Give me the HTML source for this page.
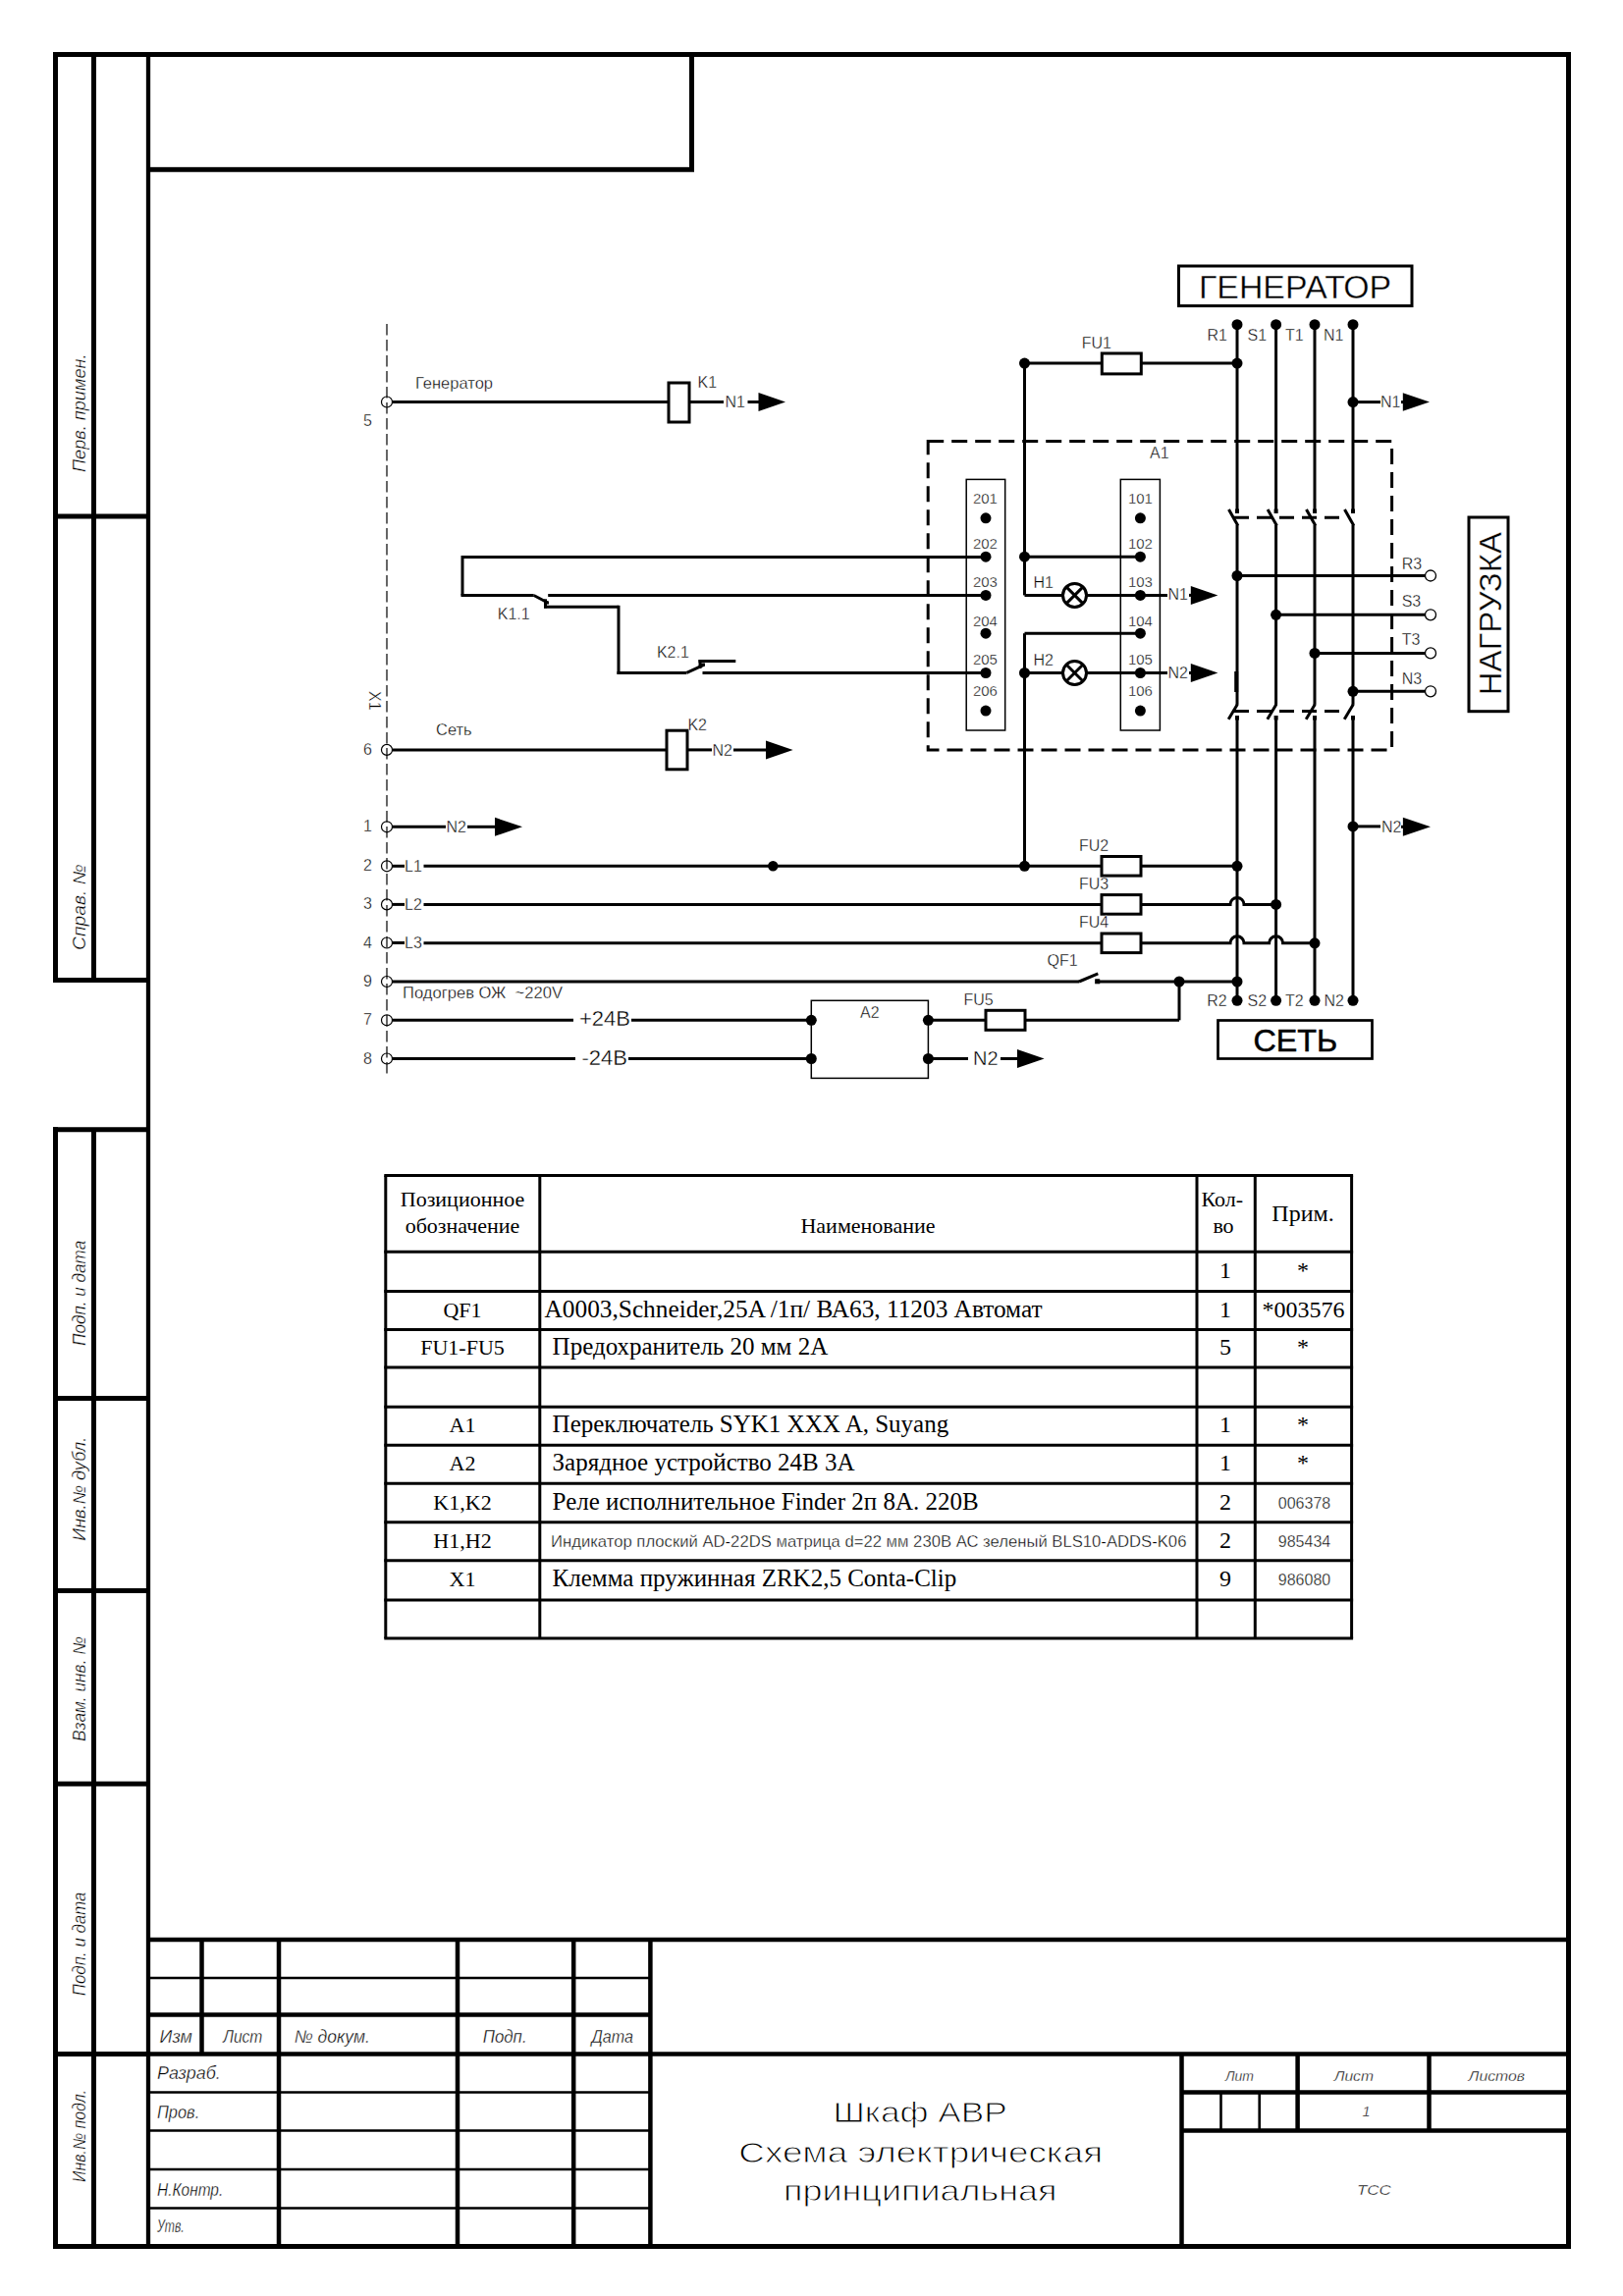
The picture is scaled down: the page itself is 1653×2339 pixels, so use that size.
<!DOCTYPE html><html><head><meta charset="utf-8"><style>html,body{margin:0;padding:0;background:#fff}svg{display:block} text{stroke:#fff;stroke-width:0.35px} text.r{stroke:none} text.t{stroke-width:0.9px} text.b{stroke:#000;stroke-width:0.5px} .s{font-family:"Liberation Sans",sans-serif} .i{font-family:"Liberation Sans",sans-serif;font-style:italic} .r{font-family:"Liberation Serif",serif}</style></head><body>
<svg width="1653" height="2339" viewBox="0 0 1653 2339" stroke="#000" fill="#000">
<rect x="0" y="0" width="1653" height="2339" fill="#fff" stroke="none"/>
<line x1="148.5" y1="55.5" x2="1600.0" y2="55.5" stroke-width="5" />
<line x1="1597.5" y1="53.0" x2="1597.5" y2="2291.0" stroke-width="5" />
<line x1="54.0" y1="2288.5" x2="1600.0" y2="2288.5" stroke-width="5" />
<line x1="151" y1="53.0" x2="151" y2="2291.0" stroke-width="4.3" />
<line x1="56.5" y1="53.0" x2="56.5" y2="1000.9" stroke-width="5" />
<line x1="95.5" y1="55.5" x2="95.5" y2="998.4" stroke-width="5" />
<line x1="56.5" y1="1148.2" x2="56.5" y2="2291.0" stroke-width="5" />
<line x1="95.5" y1="1150.7" x2="95.5" y2="2288.5" stroke-width="5" />
<line x1="54.0" y1="55.5" x2="151" y2="55.5" stroke-width="5" />
<line x1="54.0" y1="526" x2="151" y2="526" stroke-width="5" />
<line x1="54.0" y1="998.4" x2="151" y2="998.4" stroke-width="5" />
<line x1="54.0" y1="1150.7" x2="151" y2="1150.7" stroke-width="5" />
<line x1="54.0" y1="1424.4" x2="151" y2="1424.4" stroke-width="5" />
<line x1="54.0" y1="1620.4" x2="151" y2="1620.4" stroke-width="5" />
<line x1="54.0" y1="1817.2" x2="151" y2="1817.2" stroke-width="5" />
<line x1="54.0" y1="2092.4" x2="151" y2="2092.4" stroke-width="5" />
<line x1="704.5" y1="55.5" x2="704.5" y2="175" stroke-width="5" />
<line x1="151" y1="172.8" x2="707" y2="172.8" stroke-width="5" />
<line x1="151" y1="1976" x2="1597.5" y2="1976" stroke-width="4.5" />
<line x1="205.5" y1="1976" x2="205.5" y2="2092" stroke-width="4.5" />
<line x1="284" y1="1976" x2="284" y2="2288.5" stroke-width="4.5" />
<line x1="466" y1="1976" x2="466" y2="2288.5" stroke-width="4.5" />
<line x1="584.2" y1="1976" x2="584.2" y2="2288.5" stroke-width="4.5" />
<line x1="662.4" y1="1976" x2="662.4" y2="2288.5" stroke-width="4.5" />
<line x1="151" y1="2015" x2="662.4" y2="2015" stroke-width="2.6" />
<line x1="151" y1="2052.5" x2="662.4" y2="2052.5" stroke-width="4.5" />
<line x1="56.5" y1="2092.4" x2="1597.5" y2="2092.4" stroke-width="4.5" />
<line x1="151" y1="2131.5" x2="662.4" y2="2131.5" stroke-width="2.6" />
<line x1="151" y1="2170.5" x2="662.4" y2="2170.5" stroke-width="2.6" />
<line x1="151" y1="2210" x2="662.4" y2="2210" stroke-width="2.6" />
<line x1="151" y1="2249.5" x2="662.4" y2="2249.5" stroke-width="2.6" />
<line x1="1203.5" y1="2092.4" x2="1203.5" y2="2288.5" stroke-width="4.5" />
<line x1="1203.5" y1="2131.5" x2="1597.5" y2="2131.5" stroke-width="4.5" />
<line x1="1203.5" y1="2170.5" x2="1597.5" y2="2170.5" stroke-width="4.5" />
<line x1="1321.6" y1="2092.4" x2="1321.6" y2="2170.5" stroke-width="4.5" />
<line x1="1455.5" y1="2092.4" x2="1455.5" y2="2170.5" stroke-width="4.5" />
<line x1="1243.5" y1="2131.5" x2="1243.5" y2="2170.5" stroke-width="2.6" />
<line x1="1282.7" y1="2131.5" x2="1282.7" y2="2170.5" stroke-width="2.6" />
<text x="162.6" y="2081.4" font-size="18" class="i" text-anchor="start" textLength="33.3" lengthAdjust="spacingAndGlyphs" >Изм</text>
<text x="227.2" y="2081.4" font-size="18" class="i" text-anchor="start" textLength="40.2" lengthAdjust="spacingAndGlyphs" >Лист</text>
<text x="299.7" y="2081.4" font-size="18" class="i" text-anchor="start" textLength="77.2" lengthAdjust="spacingAndGlyphs" >№ докум.</text>
<text x="491.7" y="2081.4" font-size="18" class="i" text-anchor="start" textLength="44.9" lengthAdjust="spacingAndGlyphs" >Подп.</text>
<text x="602.5" y="2081.4" font-size="18" class="i" text-anchor="start" textLength="42.5" lengthAdjust="spacingAndGlyphs" >Дата</text>
<text x="160" y="2118" font-size="18" class="i" text-anchor="start" textLength="64.8" lengthAdjust="spacingAndGlyphs" >Разраб.</text>
<text x="160" y="2158" font-size="18" class="i" text-anchor="start" textLength="43.2" lengthAdjust="spacingAndGlyphs" >Пров.</text>
<text x="160" y="2237.1" font-size="18" class="i" text-anchor="start" textLength="67.2" lengthAdjust="spacingAndGlyphs" >Н.Контр.</text>
<text x="160" y="2274.4" font-size="18" class="i" text-anchor="start" textLength="27.6" lengthAdjust="spacingAndGlyphs" >Утв.</text>
<text x="1248" y="2120.4" font-size="14.5" class="i" text-anchor="start" textLength="29" lengthAdjust="spacingAndGlyphs" >Лит</text>
<text x="1358.7" y="2120.4" font-size="14.5" class="i" text-anchor="start" textLength="40.3" lengthAdjust="spacingAndGlyphs" >Лист</text>
<text x="1495.6" y="2120.4" font-size="14.5" class="i" text-anchor="start" textLength="57.4" lengthAdjust="spacingAndGlyphs" >Листов</text>
<text x="1382" y="2236" font-size="14.5" class="i" text-anchor="start" textLength="34.8" lengthAdjust="spacingAndGlyphs" >ТСС</text>
<text x="1387.5" y="2156.3" font-size="14.5" class="i" text-anchor="start" >1</text>
<text x="848.4" y="2162.4" font-size="29.5" class="s t" text-anchor="start" textLength="177.5" lengthAdjust="spacingAndGlyphs" >Шкаф АВР</text>
<text x="752.3" y="2202.6" font-size="29.5" class="s t" text-anchor="start" textLength="370.9" lengthAdjust="spacingAndGlyphs" >Схема электрическая</text>
<text x="798" y="2242" font-size="29.5" class="s t" text-anchor="start" textLength="278.4" lengthAdjust="spacingAndGlyphs" >принципиальная</text>
<text transform="translate(87,481.1) rotate(-90)" x="0" y="0" font-size="18" class="i" textLength="120.6" lengthAdjust="spacingAndGlyphs">Перв. примен.</text>
<text transform="translate(87,968) rotate(-90)" x="0" y="0" font-size="18" class="i" textLength="87.6" lengthAdjust="spacingAndGlyphs">Справ. №</text>
<text transform="translate(87,1371) rotate(-90)" x="0" y="0" font-size="18" class="i" textLength="107.2" lengthAdjust="spacingAndGlyphs">Подп. и дата</text>
<text transform="translate(87,1569.7) rotate(-90)" x="0" y="0" font-size="18" class="i" textLength="105.9" lengthAdjust="spacingAndGlyphs">Инв.№ дубл.</text>
<text transform="translate(87,1774) rotate(-90)" x="0" y="0" font-size="18" class="i" textLength="107" lengthAdjust="spacingAndGlyphs">Взам. инв. №</text>
<text transform="translate(87,2033.3) rotate(-90)" x="0" y="0" font-size="18" class="i" textLength="105.8" lengthAdjust="spacingAndGlyphs">Подп. и дата</text>
<text transform="translate(87,2222.9) rotate(-90)" x="0" y="0" font-size="18" class="i" textLength="94.1" lengthAdjust="spacingAndGlyphs">Инв.№ подл.</text>
<line x1="394" y1="330" x2="394" y2="1094" stroke-width="1.2" stroke-dasharray="11.5 4.5"/>
<line x1="399.5" y1="409.5" x2="681" y2="409.5" stroke-width="3" />
<rect x="681" y="390" width="21" height="40" fill="none" stroke-width="3" />
<line x1="702" y1="409.5" x2="737" y2="409.5" stroke-width="3" />
<text x="738.5" y="414.5" font-size="16" class="s" text-anchor="start" >N1</text>
<line x1="761.5" y1="409.5" x2="774.5" y2="409.5" stroke-width="3" />
<polygon points="772.5,400.0 800,409.5 772.5,419.0" fill="#000" stroke="none"/>
<text x="423" y="396" font-size="16.5" class="s" text-anchor="start" >Генератор</text>
<text x="710.6" y="395" font-size="16" class="s" text-anchor="start" >K1</text>
<line x1="399.5" y1="763.9" x2="679" y2="763.9" stroke-width="3" />
<rect x="679" y="744.2" width="21" height="39.59999999999991" fill="none" stroke-width="3" />
<line x1="700" y1="763.9" x2="725" y2="763.9" stroke-width="3" />
<text x="725.5" y="769.5" font-size="16" class="s" text-anchor="start" >N2</text>
<line x1="747" y1="763.9" x2="782" y2="763.9" stroke-width="3" />
<polygon points="780,754.4 807.6,763.9 780,773.4" fill="#000" stroke="none"/>
<text x="444" y="748.5" font-size="16.5" class="s" text-anchor="start" >Сеть</text>
<text x="700.4" y="744" font-size="16" class="s" text-anchor="start" >K2</text>
<line x1="399.5" y1="842.3" x2="454" y2="842.3" stroke-width="3" />
<text x="454.5" y="848" font-size="16" class="s" text-anchor="start" >N2</text>
<line x1="476" y1="842.3" x2="506" y2="842.3" stroke-width="3" />
<polygon points="504,832.8 532,842.3 504,851.8" fill="#000" stroke="none"/>
<line x1="399.5" y1="882.3" x2="412" y2="882.3" stroke-width="3" />
<text x="412" y="887.5" font-size="16" class="s" text-anchor="start" >L1</text>
<line x1="399.5" y1="921.4" x2="412" y2="921.4" stroke-width="3" />
<text x="412" y="926.6" font-size="16" class="s" text-anchor="start" >L2</text>
<line x1="399.5" y1="960.5" x2="412" y2="960.5" stroke-width="3" />
<text x="412" y="965.7" font-size="16" class="s" text-anchor="start" >L3</text>
<line x1="431.5" y1="882.3" x2="1260" y2="882.3" stroke-width="3" />
<circle cx="787.3" cy="882.3" r="5.2" fill="#000" stroke="none"/>
<circle cx="1043.5" cy="882.3" r="5.5" fill="#000" stroke="none"/>
<circle cx="1260" cy="882.3" r="5.5" fill="#000" stroke="none"/>
<path d="M431.5,921.4 L1253,921.4 A7,7 0 0 1 1267,921.4 L1299.6,921.4" fill="none" stroke-width="3"/>
<circle cx="1299.6" cy="921.4" r="5.5" fill="#000" stroke="none"/>
<path d="M431.5,960.8 L1253,960.8 A7,7 0 0 1 1267,960.8 L1292.6,960.8 A7,7 0 0 1 1306.6,960.8 L1339,960.8" fill="none" stroke-width="3"/>
<circle cx="1339" cy="960.8" r="5.5" fill="#000" stroke="none"/>
<rect x="1122" y="872.5" width="40" height="19.6" fill="#fff" stroke-width="3"/>
<text x="1099" y="866.7" font-size="16" class="s" text-anchor="start" >FU2</text>
<rect x="1122" y="911.6" width="40" height="19.6" fill="#fff" stroke-width="3"/>
<text x="1099" y="905.5" font-size="16" class="s" text-anchor="start" >FU3</text>
<rect x="1122" y="951.0" width="40" height="19.6" fill="#fff" stroke-width="3"/>
<text x="1099" y="945.1" font-size="16" class="s" text-anchor="start" >FU4</text>
<line x1="399.5" y1="1000" x2="1099" y2="1000" stroke-width="3" />
<line x1="1099" y1="1000" x2="1118.3" y2="991.8" stroke-width="3" />
<rect x="1115.7" y="997.8" width="4" height="4" fill="#000" stroke-width="1"/>
<line x1="1118" y1="1000" x2="1260" y2="1000" stroke-width="3" />
<circle cx="1201" cy="1000" r="5.5" fill="#000" stroke="none"/>
<circle cx="1260" cy="1000" r="5.5" fill="#000" stroke="none"/>
<text x="1066.5" y="984.4" font-size="16" class="s" text-anchor="start" >QF1</text>
<text x="410" y="1017" font-size="16.5" class="s" text-anchor="start" textLength="163" lengthAdjust="spacingAndGlyphs" >Подогрев ОЖ&#160; ~220V</text>
<line x1="399.5" y1="1039.3" x2="584" y2="1039.3" stroke-width="3" />
<text x="590" y="1045.3" font-size="22" class="s" text-anchor="start" >+24В</text>
<line x1="643" y1="1039.3" x2="826.3" y2="1039.3" stroke-width="3" />
<line x1="399.5" y1="1078.5" x2="586" y2="1078.5" stroke-width="3" />
<text x="592.5" y="1084.5" font-size="22" class="s" text-anchor="start" >-24В</text>
<line x1="640" y1="1078.5" x2="826.3" y2="1078.5" stroke-width="3" />
<rect x="826.3" y="1019.3" width="119.10000000000002" height="79.10000000000014" fill="none" stroke-width="1.5" />
<circle cx="826.3" cy="1039.3" r="5.5" fill="#000" stroke="none"/>
<circle cx="826.3" cy="1078.5" r="5.5" fill="#000" stroke="none"/>
<circle cx="945.4" cy="1039.3" r="5.5" fill="#000" stroke="none"/>
<circle cx="945.4" cy="1078.5" r="5.5" fill="#000" stroke="none"/>
<text x="876" y="1036.8" font-size="16" class="s" text-anchor="start" >A2</text>
<line x1="945.4" y1="1039.3" x2="1201" y2="1039.3" stroke-width="3" />
<line x1="1201" y1="1039.3" x2="1201" y2="1000" stroke-width="3" />
<rect x="1004" y="1029.3" width="40" height="20" fill="#fff" stroke-width="3"/>
<text x="981.4" y="1024.1" font-size="16" class="s" text-anchor="start" >FU5</text>
<line x1="945.4" y1="1078.5" x2="986" y2="1078.5" stroke-width="3" />
<text x="991" y="1085.3" font-size="20" class="s" text-anchor="start" >N2</text>
<line x1="1019" y1="1078.5" x2="1038" y2="1078.5" stroke-width="3" />
<polygon points="1036,1069.0 1063.6,1078.5 1036,1088.0" fill="#000" stroke="none"/>
<line x1="1260" y1="330.7" x2="1260" y2="522.6" stroke-width="3" />
<rect x="1258" y="518.5" width="4" height="4.5" fill="#000" stroke="none"/>
<line x1="1251.5" y1="518.9" x2="1260.8" y2="535.5" stroke-width="3" />
<line x1="1260" y1="535" x2="1260" y2="717.9" stroke-width="3" />
<line x1="1260.3" y1="717.5" x2="1251.2" y2="732.7" stroke-width="3" />
<rect x="1258" y="729" width="4" height="4.5" fill="#000" stroke="none"/>
<line x1="1260" y1="729.5" x2="1260" y2="1019.3" stroke-width="3" />
<circle cx="1260" cy="330.7" r="5.5" fill="#000" stroke="none"/>
<circle cx="1260" cy="1019.3" r="5.5" fill="#000" stroke="none"/>
<line x1="1299.6" y1="330.7" x2="1299.6" y2="522.6" stroke-width="3" />
<rect x="1297.6" y="518.5" width="4" height="4.5" fill="#000" stroke="none"/>
<line x1="1291.1" y1="518.9" x2="1300.3999999999999" y2="535.5" stroke-width="3" />
<line x1="1299.6" y1="535" x2="1299.6" y2="717.9" stroke-width="3" />
<line x1="1299.8999999999999" y1="717.5" x2="1290.8" y2="732.7" stroke-width="3" />
<rect x="1297.6" y="729" width="4" height="4.5" fill="#000" stroke="none"/>
<line x1="1299.6" y1="729.5" x2="1299.6" y2="1019.3" stroke-width="3" />
<circle cx="1299.6" cy="330.7" r="5.5" fill="#000" stroke="none"/>
<circle cx="1299.6" cy="1019.3" r="5.5" fill="#000" stroke="none"/>
<line x1="1339" y1="330.7" x2="1339" y2="522.6" stroke-width="3" />
<rect x="1337" y="518.5" width="4" height="4.5" fill="#000" stroke="none"/>
<line x1="1330.5" y1="518.9" x2="1339.8" y2="535.5" stroke-width="3" />
<line x1="1339" y1="535" x2="1339" y2="717.9" stroke-width="3" />
<line x1="1339.3" y1="717.5" x2="1330.2" y2="732.7" stroke-width="3" />
<rect x="1337" y="729" width="4" height="4.5" fill="#000" stroke="none"/>
<line x1="1339" y1="729.5" x2="1339" y2="1019.3" stroke-width="3" />
<circle cx="1339" cy="330.7" r="5.5" fill="#000" stroke="none"/>
<circle cx="1339" cy="1019.3" r="5.5" fill="#000" stroke="none"/>
<line x1="1378" y1="330.7" x2="1378" y2="522.6" stroke-width="3" />
<rect x="1376" y="518.5" width="4" height="4.5" fill="#000" stroke="none"/>
<line x1="1369.5" y1="518.9" x2="1378.8" y2="535.5" stroke-width="3" />
<line x1="1378" y1="535" x2="1378" y2="717.9" stroke-width="3" />
<line x1="1378.3" y1="717.5" x2="1369.2" y2="732.7" stroke-width="3" />
<rect x="1376" y="729" width="4" height="4.5" fill="#000" stroke="none"/>
<line x1="1378" y1="729.5" x2="1378" y2="1019.3" stroke-width="3" />
<circle cx="1378" cy="330.7" r="5.5" fill="#000" stroke="none"/>
<circle cx="1378" cy="1019.3" r="5.5" fill="#000" stroke="none"/>
<line x1="1259.2" y1="684" x2="1259.2" y2="705" stroke-width="4" />
<line x1="1257" y1="527.2" x2="1368" y2="527.2" stroke-width="3" stroke-dasharray="15 8"/>
<line x1="1257" y1="724.4" x2="1368" y2="724.4" stroke-width="3" stroke-dasharray="15 8"/>
<text x="1229.5" y="347" font-size="16" class="s" text-anchor="start" >R1</text>
<text x="1270.5" y="347" font-size="16" class="s" text-anchor="start" >S1</text>
<text x="1309" y="347" font-size="16" class="s" text-anchor="start" >T1</text>
<text x="1348" y="347" font-size="16" class="s" text-anchor="start" >N1</text>
<text x="1229.2" y="1024.5" font-size="16" class="s" text-anchor="start" >R2</text>
<text x="1270.6" y="1024.5" font-size="16" class="s" text-anchor="start" >S2</text>
<text x="1309" y="1024.5" font-size="16" class="s" text-anchor="start" >T2</text>
<text x="1348.4" y="1024.5" font-size="16" class="s" text-anchor="start" >N2</text>
<rect x="1200.5" y="271" width="237.5" height="40.60000000000002" fill="none" stroke-width="3" />
<text x="1221" y="304" font-size="32.5" class="s" text-anchor="start" textLength="196.2" lengthAdjust="spacingAndGlyphs" >ГЕНЕРАТОР</text>
<rect x="1240.5" y="1039.5" width="157.0" height="39.0" fill="none" stroke-width="2.7" />
<text x="1276.5" y="1071" font-size="30.5" class="s b" text-anchor="start" textLength="85.8" lengthAdjust="spacingAndGlyphs" >СЕТЬ</text>
<rect x="1496" y="527" width="40" height="197.70000000000005" fill="none" stroke-width="3" />
<text transform="translate(1528.8,708.3) rotate(-90)" x="0" y="0" font-size="32" class="s" textLength="166.3" lengthAdjust="spacingAndGlyphs">НАГРУЗКА</text>
<circle cx="1378" cy="409.6" r="5.5" fill="#000" stroke="none"/>
<line x1="1378" y1="409.6" x2="1406" y2="409.6" stroke-width="3" />
<text x="1406" y="415" font-size="16" class="s" text-anchor="start" >N1</text>
<line x1="1427" y1="409.6" x2="1430.8" y2="409.6" stroke-width="3" />
<polygon points="1428.8,400.35 1456,409.6 1428.8,418.85" fill="#000" stroke="none"/>
<circle cx="1378" cy="841.9" r="5.5" fill="#000" stroke="none"/>
<line x1="1378" y1="841.9" x2="1406" y2="841.9" stroke-width="3" />
<text x="1407" y="847.5" font-size="16" class="s" text-anchor="start" >N2</text>
<line x1="1427" y1="842.3" x2="1430.9" y2="842.3" stroke-width="3" />
<polygon points="1428.9,832.8 1457,842.3 1428.9,851.8" fill="#000" stroke="none"/>
<circle cx="1260" cy="586.5" r="5.5" fill="#000" stroke="none"/>
<line x1="1260" y1="586.5" x2="1451.5" y2="586.5" stroke-width="3" />
<circle cx="1457" cy="586.5" r="5.5" fill="#fff" stroke-width="1.3"/>
<text x="1427.7" y="579.5" font-size="16" class="s" text-anchor="start" >R3</text>
<circle cx="1299.6" cy="626.3" r="5.5" fill="#000" stroke="none"/>
<line x1="1299.6" y1="626.3" x2="1451.5" y2="626.3" stroke-width="3" />
<circle cx="1457" cy="626.3" r="5.5" fill="#fff" stroke-width="1.3"/>
<text x="1427.7" y="618.1" font-size="16" class="s" text-anchor="start" >S3</text>
<circle cx="1339" cy="665.4" r="5.5" fill="#000" stroke="none"/>
<line x1="1339" y1="665.4" x2="1451.5" y2="665.4" stroke-width="3" />
<circle cx="1457" cy="665.4" r="5.5" fill="#fff" stroke-width="1.3"/>
<text x="1427.7" y="656.8" font-size="16" class="s" text-anchor="start" >T3</text>
<circle cx="1378" cy="704.3" r="5.5" fill="#000" stroke="none"/>
<line x1="1378" y1="704.3" x2="1451.5" y2="704.3" stroke-width="3" />
<circle cx="1457" cy="704.3" r="5.5" fill="#fff" stroke-width="1.3"/>
<text x="1427.7" y="696.6" font-size="16" class="s" text-anchor="start" >N3</text>
<line x1="1043.5" y1="370.1" x2="1260" y2="370.1" stroke-width="3" />
<circle cx="1043.5" cy="370.1" r="5.5" fill="#000" stroke="none"/>
<circle cx="1260" cy="370.1" r="5.5" fill="#000" stroke="none"/>
<rect x="1122.3" y="360" width="40" height="20.9" fill="#fff" stroke-width="3"/>
<text x="1101.7" y="354.7" font-size="16" class="s" text-anchor="start" >FU1</text>
<rect x="945.2" y="449.5" width="472.4" height="314.5" fill="none" stroke-width="3" stroke-dasharray="16 8"/>
<text x="1171" y="467.2" font-size="16" class="s" text-anchor="start" >A1</text>
<rect x="984.2" y="488.4" width="39.5" height="255.60000000000002" fill="none" stroke-width="1.5" />
<rect x="1141.3" y="488.4" width="40.100000000000136" height="255.60000000000002" fill="none" stroke-width="1.5" />
<text x="1003.4" y="512.6" font-size="15" class="s" text-anchor="middle" >201</text>
<text x="1161.4" y="512.6" font-size="15" class="s" text-anchor="middle" >101</text>
<circle cx="1004" cy="527.8" r="5.5" fill="#000" stroke="none"/>
<circle cx="1161.4" cy="527.8" r="5.5" fill="#000" stroke="none"/>
<text x="1003.4" y="559.2" font-size="15" class="s" text-anchor="middle" >202</text>
<text x="1161.4" y="559.2" font-size="15" class="s" text-anchor="middle" >102</text>
<circle cx="1004" cy="567.2" r="5.5" fill="#000" stroke="none"/>
<circle cx="1161.4" cy="567.2" r="5.5" fill="#000" stroke="none"/>
<text x="1003.4" y="598.4" font-size="15" class="s" text-anchor="middle" >203</text>
<text x="1161.4" y="598.4" font-size="15" class="s" text-anchor="middle" >103</text>
<circle cx="1004" cy="606.4" r="5.5" fill="#000" stroke="none"/>
<circle cx="1161.4" cy="606.4" r="5.5" fill="#000" stroke="none"/>
<text x="1003.4" y="638.3" font-size="15" class="s" text-anchor="middle" >204</text>
<text x="1161.4" y="638.3" font-size="15" class="s" text-anchor="middle" >104</text>
<circle cx="1004" cy="645.2" r="5.5" fill="#000" stroke="none"/>
<circle cx="1161.4" cy="645.2" r="5.5" fill="#000" stroke="none"/>
<text x="1003.4" y="677.2" font-size="15" class="s" text-anchor="middle" >205</text>
<text x="1161.4" y="677.2" font-size="15" class="s" text-anchor="middle" >105</text>
<circle cx="1004" cy="685.5" r="5.5" fill="#000" stroke="none"/>
<circle cx="1161.4" cy="685.5" r="5.5" fill="#000" stroke="none"/>
<text x="1003.4" y="709" font-size="15" class="s" text-anchor="middle" >206</text>
<text x="1161.4" y="709" font-size="15" class="s" text-anchor="middle" >106</text>
<circle cx="1004" cy="724.1" r="5.5" fill="#000" stroke="none"/>
<circle cx="1161.4" cy="724.1" r="5.5" fill="#000" stroke="none"/>
<line x1="1043.5" y1="370.1" x2="1043.5" y2="606.4" stroke-width="3" />
<circle cx="1043.5" cy="567.2" r="5.5" fill="#000" stroke="none"/>
<line x1="1043.5" y1="567.2" x2="1161.4" y2="567.2" stroke-width="3" />
<line x1="1043.5" y1="606.4" x2="1082.5" y2="606.4" stroke-width="3" />
<line x1="1106.5" y1="606.4" x2="1189" y2="606.4" stroke-width="3" />
<line x1="1043.5" y1="645.2" x2="1161.4" y2="645.2" stroke-width="3" />
<line x1="1043.5" y1="645.2" x2="1043.5" y2="882.3" stroke-width="3" />
<circle cx="1043.5" cy="685.5" r="5.5" fill="#000" stroke="none"/>
<line x1="1043.5" y1="685.5" x2="1082.5" y2="685.5" stroke-width="3" />
<line x1="1106.5" y1="685.5" x2="1189" y2="685.5" stroke-width="3" />
<circle cx="1094.5" cy="606.4" r="12" fill="none" stroke-width="3"/>
<line x1="1086.0" y1="597.9" x2="1103.0" y2="614.9" stroke-width="3" />
<line x1="1086.0" y1="614.9" x2="1103.0" y2="597.9" stroke-width="3" />
<circle cx="1094.5" cy="685.5" r="12" fill="none" stroke-width="3"/>
<line x1="1086.0" y1="677.0" x2="1103.0" y2="694.0" stroke-width="3" />
<line x1="1086.0" y1="694.0" x2="1103.0" y2="677.0" stroke-width="3" />
<text x="1052.4" y="599" font-size="16" class="s" text-anchor="start" >H1</text>
<text x="1052.4" y="678.2" font-size="16" class="s" text-anchor="start" >H2</text>
<text x="1189.5" y="611" font-size="16" class="s" text-anchor="start" >N1</text>
<line x1="1211" y1="606.4" x2="1214.8" y2="606.4" stroke-width="3" />
<polygon points="1212.8,596.9 1240.4,606.4 1212.8,615.9" fill="#000" stroke="none"/>
<text x="1189.5" y="691" font-size="16" class="s" text-anchor="start" >N2</text>
<line x1="1211" y1="685.5" x2="1214.8" y2="685.5" stroke-width="3" />
<polygon points="1212.8,676.0 1240.4,685.5 1212.8,695.0" fill="#000" stroke="none"/>
<line x1="471" y1="567.5" x2="1004" y2="567.5" stroke-width="3" />
<line x1="471" y1="566" x2="471" y2="606.5" stroke-width="3" />
<line x1="469.5" y1="606.5" x2="543.7" y2="606.5" stroke-width="3" />
<line x1="543.7" y1="606.5" x2="557.9" y2="614" stroke-width="3" />
<line x1="555.5" y1="610.3" x2="555.5" y2="619.5" stroke-width="3" />
<line x1="555.5" y1="614" x2="559" y2="614" stroke-width="3" />
<line x1="554" y1="618.3" x2="630" y2="618.3" stroke-width="3" />
<line x1="558.2" y1="606.5" x2="1004" y2="606.5" stroke-width="3" />
<line x1="630" y1="616.8" x2="630" y2="686.9" stroke-width="3" />
<line x1="628.5" y1="685.4" x2="699.4" y2="685.4" stroke-width="3" />
<line x1="699.4" y1="685.4" x2="717.3" y2="677.1" stroke-width="3" />
<line x1="713" y1="672" x2="713" y2="681" stroke-width="3" />
<line x1="713" y1="677" x2="718" y2="677" stroke-width="3" />
<line x1="711.5" y1="673.4" x2="749.3" y2="673.4" stroke-width="3" />
<line x1="715.5" y1="685.4" x2="1004" y2="685.5" stroke-width="3" />
<text x="506.8" y="630.7" font-size="16" class="s" text-anchor="start" >K1.1</text>
<text x="668.9" y="669.7" font-size="16" class="s" text-anchor="start" >K2.1</text>
<circle cx="394" cy="409.5" r="5.5" fill="none" stroke-width="1.2"/>
<circle cx="394" cy="763.9" r="5.5" fill="none" stroke-width="1.2"/>
<circle cx="394" cy="842.3" r="5.5" fill="none" stroke-width="1.2"/>
<circle cx="394" cy="882.3" r="5.5" fill="none" stroke-width="1.2"/>
<circle cx="394" cy="921.4" r="5.5" fill="none" stroke-width="1.2"/>
<circle cx="394" cy="960.5" r="5.5" fill="none" stroke-width="1.2"/>
<circle cx="394" cy="1000" r="5.5" fill="none" stroke-width="1.2"/>
<circle cx="394" cy="1039.3" r="5.5" fill="none" stroke-width="1.2"/>
<circle cx="394" cy="1078.5" r="5.5" fill="none" stroke-width="1.2"/>
<text x="370" y="847.3" font-size="16" class="s" text-anchor="start" >1</text>
<text x="370" y="887.3" font-size="16" class="s" text-anchor="start" >2</text>
<text x="370" y="926.4" font-size="16" class="s" text-anchor="start" >3</text>
<text x="370" y="965.5" font-size="16" class="s" text-anchor="start" >4</text>
<text x="370" y="1005" font-size="16" class="s" text-anchor="start" >9</text>
<text x="370" y="1044.3" font-size="16" class="s" text-anchor="start" >7</text>
<text x="370" y="1083.5" font-size="16" class="s" text-anchor="start" >8</text>
<text x="370" y="433.6" font-size="16" class="s" text-anchor="start" >5</text>
<text x="370" y="769" font-size="16" class="s" text-anchor="start" >6</text>
<text transform="translate(376,704) rotate(90)" x="0" y="0" font-size="16" class="s">X1</text>
<line x1="391.3" y1="1197.6" x2="1378.1" y2="1197.6" stroke-width="3" />
<line x1="391.3" y1="1275.2" x2="1378.1" y2="1275.2" stroke-width="3" />
<line x1="391.3" y1="1315.5" x2="1378.1" y2="1315.5" stroke-width="3" />
<line x1="391.3" y1="1354.6" x2="1378.1" y2="1354.6" stroke-width="3" />
<line x1="391.3" y1="1393" x2="1378.1" y2="1393" stroke-width="3" />
<line x1="391.3" y1="1433.3" x2="1378.1" y2="1433.3" stroke-width="3" />
<line x1="391.3" y1="1472.2" x2="1378.1" y2="1472.2" stroke-width="3" />
<line x1="391.3" y1="1511.3" x2="1378.1" y2="1511.3" stroke-width="3" />
<line x1="391.3" y1="1550.7" x2="1378.1" y2="1550.7" stroke-width="3" />
<line x1="391.3" y1="1589.8" x2="1378.1" y2="1589.8" stroke-width="3" />
<line x1="391.3" y1="1629.9" x2="1378.1" y2="1629.9" stroke-width="3" />
<line x1="391.3" y1="1669" x2="1378.1" y2="1669" stroke-width="3" />
<line x1="392.8" y1="1197.6" x2="392.8" y2="1669" stroke-width="3" />
<line x1="549.8" y1="1197.6" x2="549.8" y2="1669" stroke-width="3" />
<line x1="1219" y1="1197.6" x2="1219" y2="1669" stroke-width="3" />
<line x1="1278.3" y1="1197.6" x2="1278.3" y2="1669" stroke-width="3" />
<line x1="1376.6" y1="1197.6" x2="1376.6" y2="1669" stroke-width="3" />
<text x="471" y="1228.7" font-size="22" class="r" text-anchor="middle" >Позиционное</text>
<text x="471" y="1255.9" font-size="22" class="r" text-anchor="middle" >обозначение</text>
<text x="884" y="1255.9" font-size="22" class="r" text-anchor="middle" >Наименование</text>
<text x="1223.5" y="1228.7" font-size="22" class="r" text-anchor="start" >Кол-</text>
<text x="1246" y="1256" font-size="22" class="r" text-anchor="middle" >во</text>
<text x="1327" y="1244" font-size="24" class="r" text-anchor="middle" >Прим.</text>
<text x="1248" y="1301.85" font-size="24" class="r" text-anchor="middle" >1</text>
<text x="1327" y="1301.85" font-size="24" class="r" text-anchor="middle" >*</text>
<text x="471" y="1341.55" font-size="22" class="r" text-anchor="middle" >QF1</text>
<text x="554.6" y="1341.55" font-size="25" class="r" text-anchor="start" textLength="507" lengthAdjust="spacingAndGlyphs" >A0003,Schneider,25A /1п/ ВА63, 11203 Автомат</text>
<text x="1248" y="1341.55" font-size="24" class="r" text-anchor="middle" >1</text>
<text x="1327.5" y="1341.55" font-size="24" class="r" text-anchor="middle" >*003576</text>
<text x="471" y="1380.3" font-size="22" class="r" text-anchor="middle" >FU1-FU5</text>
<text x="562.6" y="1380.3" font-size="25" class="r" text-anchor="start" >Предохранитель 20 мм 2А</text>
<text x="1248" y="1380.3" font-size="24" class="r" text-anchor="middle" >5</text>
<text x="1327" y="1380.3" font-size="24" class="r" text-anchor="middle" >*</text>
<text x="471" y="1459.25" font-size="22" class="r" text-anchor="middle" >A1</text>
<text x="562.6" y="1459.25" font-size="25" class="r" text-anchor="start" >Переключатель SYK1 XXX A, Suyang</text>
<text x="1248" y="1459.25" font-size="24" class="r" text-anchor="middle" >1</text>
<text x="1327" y="1459.25" font-size="24" class="r" text-anchor="middle" >*</text>
<text x="471" y="1498.25" font-size="22" class="r" text-anchor="middle" >A2</text>
<text x="562.6" y="1498.25" font-size="25" class="r" text-anchor="start" >Зарядное устройство 24В 3А</text>
<text x="1248" y="1498.25" font-size="24" class="r" text-anchor="middle" >1</text>
<text x="1327" y="1498.25" font-size="24" class="r" text-anchor="middle" >*</text>
<text x="471" y="1537.5" font-size="22" class="r" text-anchor="middle" >K1,K2</text>
<text x="562.6" y="1537.5" font-size="25" class="r" text-anchor="start" >Реле исполнительное Finder 2п 8А. 220В</text>
<text x="1248" y="1537.5" font-size="24" class="r" text-anchor="middle" >2</text>
<text x="1328.5" y="1536.5" font-size="16" class="s" text-anchor="middle" >006378</text>
<text x="471" y="1576.75" font-size="22" class="r" text-anchor="middle" >H1,H2</text>
<text x="561" y="1575.75" font-size="16" class="s" text-anchor="start" textLength="647.4" lengthAdjust="spacingAndGlyphs" >Индикатор плоский AD-22DS матрица d=22 мм 230В АС зеленый BLS10-ADDS-K06</text>
<text x="1248" y="1576.75" font-size="24" class="r" text-anchor="middle" >2</text>
<text x="1328.5" y="1575.75" font-size="16" class="s" text-anchor="middle" >985434</text>
<text x="471" y="1616.35" font-size="22" class="r" text-anchor="middle" >X1</text>
<text x="562.6" y="1616.35" font-size="25" class="r" text-anchor="start" >Клемма пружинная ZRK2,5 Conta-Clip</text>
<text x="1248" y="1616.35" font-size="24" class="r" text-anchor="middle" >9</text>
<text x="1328.5" y="1615.35" font-size="16" class="s" text-anchor="middle" >986080</text>
</svg></body></html>
